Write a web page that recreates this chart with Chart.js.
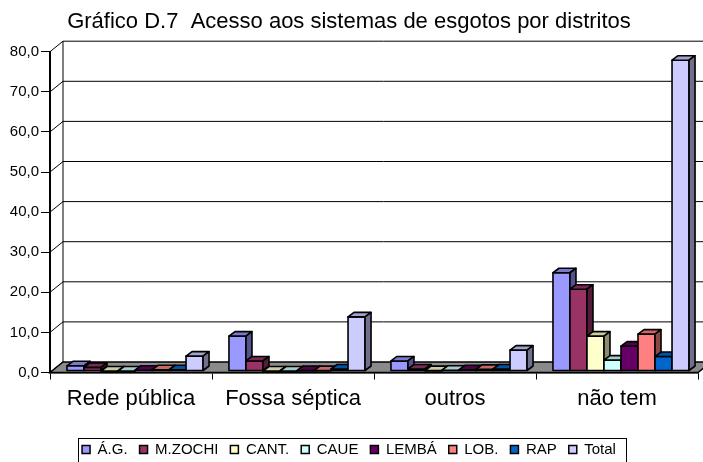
<!DOCTYPE html>
<html>
<head>
<meta charset="utf-8">
<script src="https://cdn.jsdelivr.net/npm/chart.js@4/dist/chart.umd.min.js"></script>
<style>
  html, body { margin: 0; padding: 0; background: #fff; }
</style>
</head>
<body>
<canvas id="graficoEsgotos" width="703" height="462"></canvas>
<script>
const categorias = ['Rede pública', 'Fossa séptica', 'outros', 'não tem'];
const distritos = ['Á.G.', 'M.ZOCHI', 'CANT.', 'CAUE', 'LEMBÁ', 'LOB.', 'RAP', 'Total'];
const valAG     = [1.3, 8.7, 2.5, 24.5];
const valMZochi = [0.9, 2.5, 0.5, 20.4];
const valCant   = [0.0, 0.0, 0.1, 8.7];
const valCaue   = [0.0, 0.0, 0.2, 2.7];
const valLemba  = [0.2, 0.1, 0.3, 6.2];
const valLob    = [0.3, 0.1, 0.4, 9.2];
const valRap    = [0.3, 0.5, 0.5, 3.6];
const valTotal  = [3.7, 13.5, 5.2, 77.5];
const eixoY = { min: 0, max: 80, passo: 10 };

const series = [valAG, valMZochi, valCant, valCaue, valLemba, valLob, valRap, valTotal];
const cores = ['#9999FF', '#993366', '#FFFFCC', '#CCFFFF', '#660066', '#FF8080', '#0066CC', '#CCCCFF'];

const fonte = '"Liberation Sans", Arial, sans-serif';
const parede = { dx: 13, dy: -10.5 };
const barra = { dx: 6, dy: -4.5, ox: 4, oy: -1.5 };

function escurecer(hex, f) {
  const n = parseInt(hex.slice(1), 16);
  const r = Math.round(((n >> 16) & 255) * f);
  const g = Math.round(((n >> 8) & 255) * f);
  const b = Math.round((n & 255) * f);
  return `rgb(${r},${g},${b})`;
}

function poligono(ctx, pts, cor) {
  ctx.beginPath();
  ctx.moveTo(pts[0][0], pts[0][1]);
  for (let i = 1; i < pts.length; i++) ctx.lineTo(pts[i][0], pts[i][1]);
  ctx.closePath();
  ctx.fillStyle = cor;
  ctx.fill();
  ctx.stroke();
}

// paredes, piso e barras com efeito 3D
const efeito3d = {
  id: 'efeito3d',
  beforeDatasetsDraw(chart) {
    const { ctx, chartArea: a, scales: { y } } = chart;
    ctx.save();
    ctx.strokeStyle = '#000';
    ctx.lineWidth = 1;
    const topo = y.getPixelForValue(eixoY.max);
    y.ticks.forEach(t => {
      const py = y.getPixelForValue(t.value);
      ctx.beginPath();
      ctx.moveTo(a.left, py);
      ctx.lineTo(a.left + parede.dx, py + parede.dy);
      if (t.value > 0) ctx.lineTo(chart.width + 20, py + parede.dy);
      ctx.stroke();
    });
    ctx.beginPath();
    ctx.moveTo(a.left + parede.dx, topo + parede.dy);
    ctx.lineTo(a.left + parede.dx, a.bottom + parede.dy);
    ctx.stroke();

    ctx.lineWidth = 1.5;
    poligono(ctx, [
      [a.left, a.bottom], [a.right, a.bottom],
      [a.right + parede.dx, a.bottom + parede.dy], [a.left + parede.dx, a.bottom + parede.dy]
    ], '#8a8a8a');

    ctx.translate(barra.ox, barra.oy);
    ctx.lineJoin = 'round';
    const metas = chart.data.datasets.map((d, i) => chart.getDatasetMeta(i));
    categorias.forEach((c, ci) => {
      metas.forEach((meta, di) => {
        const el = meta.data[ci];
        const { x, y: yt, base, width } = el.getProps(['x', 'y', 'base', 'width'], true);
        const cor = cores[di];
        const x0 = x - width / 2, x1 = x + width / 2;
        ctx.lineWidth = 1.6;
        poligono(ctx, [[x0, yt], [x1, yt], [x1, base], [x0, base]], cor);
        poligono(ctx, [[x0, yt], [x1, yt], [x1 + barra.dx, yt + barra.dy], [x0 + barra.dx, yt + barra.dy]], escurecer(cor, 0.8));
        poligono(ctx, [[x1, yt], [x1 + barra.dx, yt + barra.dy], [x1 + barra.dx, base + barra.dy], [x1, base]], escurecer(cor, 0.55));
      });
    });
    ctx.restore();
    return false;
  },
  afterDraw(chart) {
    const caixas = chart.legend.legendHitBoxes;
    if (!caixas || !caixas.length) return;
    const esq = caixas[0].left - 4;
    const ult = caixas[caixas.length - 1];
    const dir = ult.left + ult.width + 10;
    const cy = caixas[0].top + caixas[0].height / 2;
    const ctx = chart.ctx;
    ctx.save();
    ctx.strokeStyle = '#000';
    ctx.lineWidth = 1;
    ctx.strokeRect(Math.round(esq) + 0.5, Math.round(cy - 12) + 0.5, Math.round(dir - esq), 24);
    ctx.restore();
  }
};

const ctx = document.getElementById('graficoEsgotos').getContext('2d');
new Chart(ctx, {
  type: 'bar',
  data: {
    labels: categorias,
    datasets: distritos.map((nome, i) => ({
      label: nome,
      data: series[i],
      backgroundColor: cores[i],
      borderColor: '#000',
      borderWidth: 1.5,
      barPercentage: 1,
      categoryPercentage: 0.84
    }))
  },
  options: {
    responsive: false,
    devicePixelRatio: 1,
    animation: false,
    layout: { padding: { top: 0, left: 0, right: 5, bottom: -5 } },
    plugins: {
      title: {
        display: true,
        text: 'Gráfico D.7  Acesso aos sistemas de esgotos por distritos',
        color: '#000',
        font: { family: fonte, size: 22, weight: 'normal' },
        padding: { top: 8.8, bottom: 16.5 }
      },
      legend: {
        position: 'bottom',
        labels: {
          color: '#000',
          font: { family: fonte, size: 15 },
          boxWidth: 8,
          boxHeight: 8,
          padding: 12,
          sort: (a, b) => a.datasetIndex - b.datasetIndex
        }
      },
      tooltip: { enabled: false }
    },
    scales: {
      x: {
        grid: { offset: true, drawOnChartArea: false, tickLength: 7, color: '#000' },
        border: { display: true, color: '#000', width: 1.5 },
        ticks: { color: '#000', font: { family: fonte, size: 22 }, padding: 6, maxRotation: 0 },
        afterFit: s => { s.height = 57.5; }
      },
      y: {
        min: eixoY.min,
        max: eixoY.max,
        grid: { drawOnChartArea: false, tickLength: 9, color: '#000' },
        border: { display: true, color: '#000', width: 2 },
        ticks: {
          stepSize: eixoY.passo,
          color: '#000',
          padding: 2,
          font: { family: fonte, size: 15 },
          callback: v => v.toFixed(1).replace('.', ',')
        },
        afterFit: s => { s.width = 50; }
      }
    }
  },
  plugins: [efeito3d]
});
</script>
</body>
</html>
